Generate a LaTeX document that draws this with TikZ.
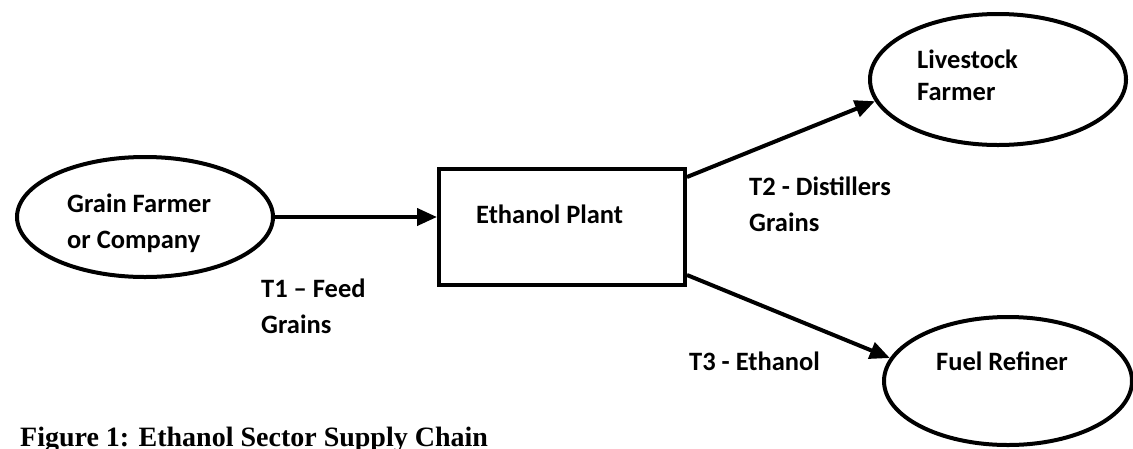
\documentclass[tikz,border=0pt]{standalone}
\usepackage{fontspec}
\setmainfont{Carlito}
\newfontfamily\capfont{Liberation Serif}
\usetikzlibrary{shapes.geometric,arrows.meta,calc}
\begin{document}
\begin{tikzpicture}[x=1pt,y=-1pt,
  shapeline/.style={draw=black,line width=4pt},
  oval/.style={shapeline,ellipse,inner sep=0pt},
  box/.style={shapeline,rectangle,inner sep=0pt},
  lbl/.style={anchor=base west,inner sep=0pt,font=\fontsize{26.5}{36}\selectfont\bfseries},
  flow/.style={line width=4pt,-{Triangle[length=20pt,width=17pt]}},
]
\useasboundingbox (0,0) rectangle (1133,448);
% shapes
\node[oval,minimum width=256pt,minimum height=120pt] (grain) at (145,217) {};
\node[box,minimum width=246pt,minimum height=116pt] (plant) at (562,227) {};
\node[oval,minimum width=256pt,minimum height=131pt] (live) at (998,79.5) {};
\node[oval,minimum width=248pt,minimum height=128pt] (fuel) at (1008,381) {};
% texts in shapes
\node[lbl] (grainA) at (67,212) {Grain Farmer};
\node[lbl] (grainB) at (67,248) {or Company};
\node[lbl] (plantA) at (476,223) {Ethanol Plant};
\node[lbl] (liveA) at (917,68) {Livestock};
\node[lbl] (liveB) at (917,100) {Farmer};
\node[lbl] (fuelA) at (936,370) {Fuel Refiner};
% connector labels
\node[lbl] (t1a) at (261,297) {T1 – Feed};
\node[lbl] (t1b) at (261,333) {Grains};
\node[lbl] (t2a) at (749,195) {T2 - Distillers};
\node[lbl] (t2b) at (749,231) {Grains};
\node[lbl] (t3a) at (689,370) {T3 - Ethanol};
% connectors
\coordinate (t2s) at ($(plant.north east)+(0,10)$);
\coordinate (t3s) at ($(plant.south east)+(0,-12)$);
\draw[flow] (grain.east) -- (grain.east -| plant.west);
\draw[flow] (t2s) -- (live.190);
\draw[flow] (t3s) -- (fuel.169);
% caption
\node[anchor=base west,inner sep=0pt,font=\capfont\fontsize{28}{32}\selectfont\bfseries] (cap) at (20,446) {Figure 1: Ethanol Sector Supply Chain};
\end{tikzpicture}
\end{document}
